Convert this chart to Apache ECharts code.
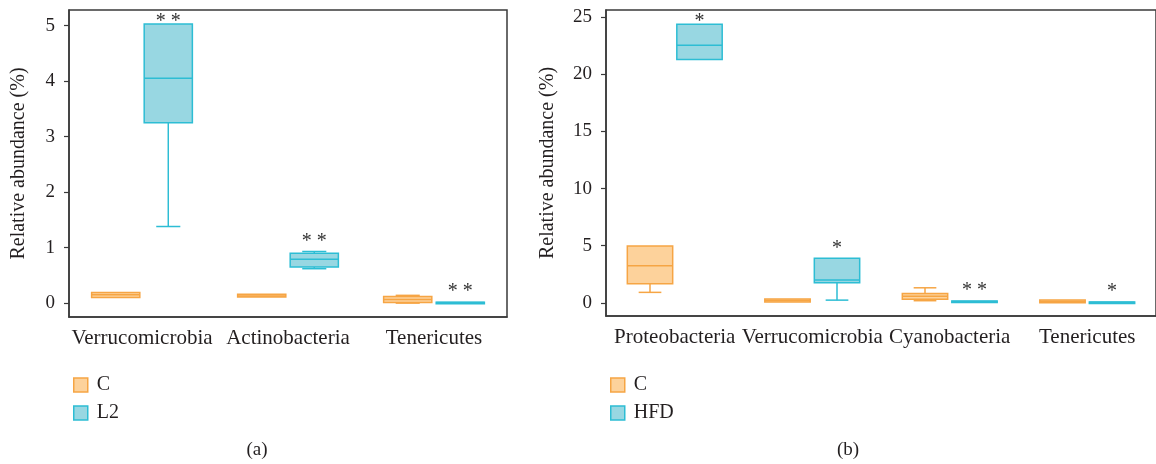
<!DOCTYPE html>
<html>
<head>
<meta charset="utf-8">
<title>Relative abundance box plots</title>
<script src="https://cdn.jsdelivr.net/npm/echarts@6/dist/echarts.min.js"></script>
<style>
  html, body { margin: 0; padding: 0; background: #fff; }
  #chart { width: 1156px; height: 464px; }
</style>
</head>
<body>
<div id="chart"></div>
<script>
// panel (a): C vs L2, box = [min, Q1, median, Q3, max]
const categoriesA = ['Verrucomicrobia', 'Actinobacteria', 'Tenericutes'];
const controlA = [
  [0.10, 0.10, 0.15, 0.19, 0.19],
  [0.11, 0.11, 0.13, 0.16, 0.16],
  [0.00, 0.01, 0.065, 0.12, 0.14]
];
const l2A = [
  [1.38, 3.25, 4.05, 5.03, 5.03],
  [0.62, 0.65, 0.79, 0.90, 0.93],
  [0.00, 0.005, 0.01, 0.015, 0.02]
];
const sigA = ['**', '**', '**'];
const ticksA = [0, 1, 2, 3, 4, 5];

// panel (b): C vs HFD
const categoriesB = ['Proteobacteria', 'Verrucomicrobia', 'Cyanobacteria', 'Tenericutes'];
const controlB = [
  [0.91, 1.67, 3.24, 4.97, 4.97],
  [0.07, 0.07, 0.20, 0.33, 0.33],
  [0.18, 0.30, 0.56, 0.82, 1.31],
  [0.00, 0.00, 0.10, 0.25, 0.25]
];
const hfdB = [
  [21.3, 21.3, 22.55, 24.4, 24.4],
  [0.23, 1.75, 2.00, 3.89, 3.89],
  [0.08, 0.08, 0.12, 0.16, 0.16],
  [0.02, 0.02, 0.04, 0.06, 0.06]
];
const sigB = ['*', '*', '**', '*'];
const ticksB = [0, 5, 10, 15, 20, 25];

const FONT = '"Liberation Serif", "DejaVu Serif", serif';
const TEXT = '#231f20';
const AXIS = '#3a3a3a';
const orange = { fill: '#fdd29b', stroke: '#f6a544' };
const blue = { fill: '#98d7e2', stroke: '#2dbdd4' };

function boxRenderer(offsetFrac, col, sig) {
  return function (params, api) {
    const i = api.value(0);
    const band = api.size([1, 0])[0];
    const w = band * 0.33;
    const cx = api.coord([i, 0])[0] + offsetFrac * band;
    const x0 = cx - w / 2;
    const yMin = api.coord([i, api.value(1)])[1];
    const yQ1 = api.coord([i, api.value(2)])[1];
    const yMed = api.coord([i, api.value(3)])[1];
    const yQ3 = api.coord([i, api.value(4)])[1];
    const yMax = api.coord([i, api.value(5)])[1];
    const cap = w / 2;
    const line = { stroke: col.stroke, lineWidth: 1.5 };
    const children = [];
    if (yMin - yQ1 > 0.5) {
      children.push({ type: 'line', shape: { x1: cx, y1: yQ1, x2: cx, y2: yMin }, style: line });
      children.push({ type: 'line', shape: { x1: cx - cap / 2, y1: yMin, x2: cx + cap / 2, y2: yMin }, style: line });
    }
    if (yQ3 - yMax > 0.5) {
      children.push({ type: 'line', shape: { x1: cx, y1: yQ3, x2: cx, y2: yMax }, style: line });
      children.push({ type: 'line', shape: { x1: cx - cap / 2, y1: yMax, x2: cx + cap / 2, y2: yMax }, style: line });
    }
    children.push({
      type: 'rect',
      shape: { x: x0, y: yQ3, width: w, height: Math.max(yQ1 - yQ3, 1.5) },
      style: { fill: col.fill, stroke: col.stroke, lineWidth: 1.5 }
    });
    children.push({ type: 'line', shape: { x1: x0, y1: yMed, x2: x0 + w, y2: yMed }, style: line });
    if (sig) {
      const top = Math.min(yMax, yQ3);
      const ty = Math.max(top - 10, params.coordSys.y + 12);
      children.push({
        type: 'text',
        style: {
          text: sig[i].split('').join(' '),
          x: cx, y: ty,
          align: 'center', verticalAlign: 'middle',
          fill: '#333', font: '20px ' + FONT
        }
      });
    }
    return { type: 'group', children: children };
  };
}

function boxSeries(name, values, gridIdx, offsetFrac, col, sig) {
  return {
    name: name,
    type: 'custom',
    xAxisIndex: gridIdx,
    yAxisIndex: gridIdx,
    itemStyle: { color: col.fill, borderColor: col.stroke, borderWidth: 1.5 },
    renderItem: boxRenderer(offsetFrac, col, sig),
    encode: { x: 0, y: [1, 2, 3, 4, 5] },
    data: values.map((d, i) => [i].concat(d)),
    silent: true
  };
}

function xAxis(cats, gridIdx) {
  return {
    type: 'category',
    gridIndex: gridIdx,
    data: cats,
    boundaryGap: true,
    axisLine: { onZero: false, lineStyle: { color: AXIS, width: 1.5 } },
    axisTick: { alignWithLabel: true, length: 6, lineStyle: { color: AXIS, width: 1.2 } },
    axisLabel: { interval: 0, margin: 11, color: TEXT, fontFamily: FONT, fontSize: 21 },
    splitLine: { show: false }
  };
}

function yAxis(gridIdx, min, max, ticks, gap) {
  return {
    type: 'value',
    gridIndex: gridIdx,
    min: min,
    max: max,
    name: 'Relative abundance (%)',
    nameLocation: 'middle',
    nameRotate: 90,
    nameGap: gap,
    nameTextStyle: { color: TEXT, fontFamily: FONT, fontSize: 20 },
    axisLine: { show: true, lineStyle: { color: AXIS, width: 1.5 } },
    axisTick: { show: true, length: 5, customValues: ticks, lineStyle: { color: AXIS, width: 1.2 } },
    axisLabel: { customValues: ticks, margin: 14, color: TEXT, fontFamily: FONT, fontSize: 19 },
    splitLine: { show: false }
  };
}

function legendItem(name, col) {
  return { name: name, icon: 'rect', itemStyle: { color: col.fill, borderColor: col.stroke, borderWidth: 1.5 } };
}

const chart = echarts.init(document.getElementById('chart'), null, { renderer: 'canvas' });

chart.setOption({
  backgroundColor: '#fff',
  animation: false,
  grid: [
    { left: 69, top: 10, width: 438, height: 307, show: true, borderColor: AXIS, borderWidth: 1.5, backgroundColor: '#fff' },
    { left: 606, top: 10, width: 557, height: 306, show: true, borderColor: AXIS, borderWidth: 1.5, backgroundColor: '#fff' }
  ],
  xAxis: [xAxis(categoriesA, 0), xAxis(categoriesB, 1)],
  yAxis: [yAxis(0, -0.25, 5.28, ticksA, 40), yAxis(1, -1.16, 25.64, ticksB, 48)],
  legend: [
    {
      orient: 'vertical', left: 68, top: 370,
      itemWidth: 14, itemHeight: 14, itemGap: 8, selectedMode: false,
      textStyle: { color: TEXT, fontFamily: FONT, fontSize: 20, lineHeight: 20, padding: [0, 0, 0, 4] },
      data: [legendItem('C', orange), legendItem('L2', blue)]
    },
    {
      orient: 'vertical', left: 605, top: 370,
      itemWidth: 14, itemHeight: 14, itemGap: 8, selectedMode: false,
      textStyle: { color: TEXT, fontFamily: FONT, fontSize: 20, lineHeight: 20, padding: [0, 0, 0, 4] },
      data: [legendItem('C', orange), legendItem('HFD', blue)]
    }
  ],
  graphic: [
    { type: 'text', x: 257, y: 450, style: { text: '(a)', align: 'center', verticalAlign: 'middle', fill: TEXT, font: '19px ' + FONT } },
    { type: 'text', x: 848, y: 450, style: { text: '(b)', align: 'center', verticalAlign: 'middle', fill: TEXT, font: '19px ' + FONT } }
  ],
  series: [
    boxSeries('C', controlA, 0, -0.18, orange, null),
    boxSeries('L2', l2A, 0, 0.18, blue, sigA),
    boxSeries('C', controlB, 1, -0.18, orange, null),
    boxSeries('HFD', hfdB, 1, 0.18, blue, sigB)
  ]
});

window.addEventListener('resize', () => chart.resize());
</script>
</body>
</html>
